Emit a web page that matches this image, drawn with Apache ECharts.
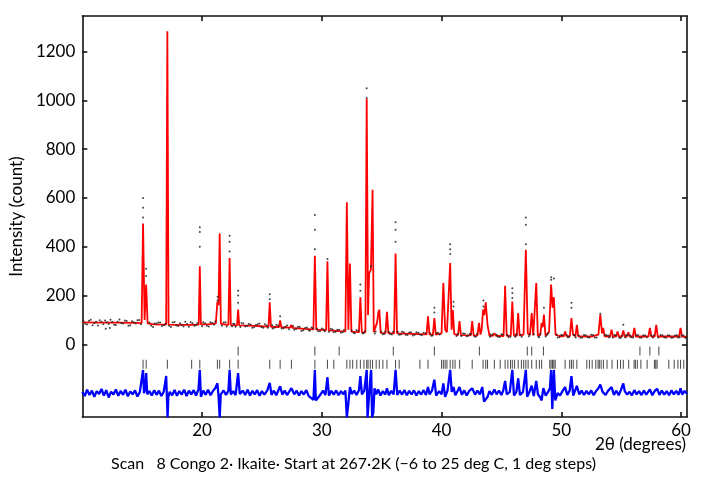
<!DOCTYPE html>
<html>
<head>
<meta charset="utf-8">
<script src="https://cdn.jsdelivr.net/npm/echarts@6/dist/echarts.min.js"></script>
<style>
  html, body { margin: 0; padding: 0; background: #ffffff; }
  #chart { width: 707px; height: 477px; }
</style>
</head>
<body>
<div id="chart"></div>
<script>
// tick labels
const xTicks = [20, 30, 40, 50, 60];
const yTicks = [0, 200, 400, 600, 800, 1000, 1200];

// calculated profile (red), [2theta, count]
const calcCurve = [
  [10.0, 90], [11.5, 89], [13.0, 89], [14.5, 88], [14.95, 87], [15.07, 495], [15.2, 100], [15.33, 245], [15.45, 86],
  [16.0, 82], [17.0, 81], [17.1, 1283], [17.2, 81], [18.0, 80], [19.0, 80], [19.72, 81], [19.81, 320], [19.9, 82],
  [20.5, 82], [21.15, 86], [21.28, 175], [21.38, 160], [21.47, 454], [21.57, 84], [22.2, 80], [22.3, 354], [22.4, 79],
  [22.92, 78], [23.01, 142], [23.1, 78], [24.0, 77], [25.0, 74], [25.55, 73], [25.65, 172], [25.75, 72],
  [26.42, 71], [26.52, 98], [26.62, 70], [27.36, 68], [27.46, 80], [27.56, 67], [28.5, 63], [29.3, 61], [29.42, 363],
  [29.54, 60], [30.36, 58], [30.47, 340], [30.58, 57], [31.5, 54], [31.97, 53], [32.09, 582], [32.22, 60], [32.35, 331],
  [32.47, 52], [33.1, 50], [33.22, 193], [33.34, 50], [33.64, 49], [33.75, 1006], [33.86, 120], [33.95, 290], [34.1, 306],
  [34.16, 300], [34.24, 634], [34.34, 50], [34.5, 48], [34.62, 90], [34.72, 130], [34.8, 142], [34.92, 47], [35.32, 46],
  [35.44, 133], [35.56, 46], [36.04, 45], [36.16, 372], [36.28, 45], [37.5, 43], [38.75, 41], [38.87, 115], [38.99, 41],
  [39.28, 40], [39.4, 108], [39.52, 40], [40.0, 45], [40.15, 251], [40.3, 60], [40.45, 50], [40.6, 45], [40.72, 333],
  [40.84, 60], [40.94, 140], [41.06, 42], [41.38, 38], [41.5, 95], [41.62, 38], [42.44, 37], [42.56, 95], [42.68, 37],
  [43.0, 36], [43.13, 88], [43.25, 40], [43.35, 60], [43.47, 142], [43.57, 120], [43.69, 172], [43.84, 80], [44.0, 36],
  [44.28, 35], [44.41, 46], [44.54, 35], [45.18, 34], [45.31, 240], [45.44, 35], [45.78, 35], [45.91, 175], [46.04, 36],
  [46.28, 35], [46.4, 128], [46.52, 36], [46.85, 40], [47.04, 388], [47.2, 45], [47.38, 38], [47.53, 128], [47.66, 36],
  [47.78, 36], [47.91, 251], [48.04, 36], [48.24, 38], [48.36, 88], [48.45, 70], [48.55, 122], [48.68, 36], [48.98, 50],
  [49.15, 245], [49.27, 150], [49.38, 193], [49.52, 40], [49.8, 34], [50.2, 33], [50.32, 52], [50.44, 33], [50.72, 34],
  [50.85, 108], [50.98, 40], [51.18, 33], [51.3, 80], [51.42, 33], [52.5, 32], [53.1, 40], [53.26, 122], [53.4, 45],
  [53.5, 67], [53.62, 33], [54.08, 32], [54.2, 60], [54.32, 32], [54.58, 32], [54.7, 53], [54.82, 32], [55.06, 32],
  [55.18, 57], [55.3, 32], [55.48, 32], [55.6, 49], [55.72, 32], [55.98, 32], [56.1, 67], [56.22, 32], [57.28, 32],
  [57.4, 67], [57.52, 32], [57.8, 32], [57.93, 80], [58.06, 32], [59.0, 32], [59.84, 32], [59.96, 67], [60.08, 32],
  [60.5, 31]
];

// observed counts (black dots) along the background
const obsBackground = [
  [10.1, 95], [10.25, 84], [10.4, 81], [10.55, 97], [10.7, 101], [10.85, 78], [11.0, 86], [11.15, 92], [11.3, 77],
  [11.45, 99], [11.6, 93], [11.75, 82], [11.9, 98], [11.95, 64], [12.05, 90], [12.2, 83], [12.3, 67], [12.35, 101],
  [12.5, 91], [12.65, 80], [12.8, 79], [12.95, 93], [13.1, 102], [13.25, 87], [13.4, 85], [13.55, 98], [13.7, 96],
  [13.85, 76], [14.0, 78], [14.15, 95], [14.3, 90], [14.45, 85], [14.6, 99], [14.75, 100], [14.9, 82], [15.6, 89],
  [15.75, 76], [15.9, 71], [16.05, 85], [16.2, 85], [16.35, 89], [16.5, 89], [16.65, 75], [16.8, 78], [16.95, 84],
  [17.25, 76], [17.4, 71], [17.55, 89], [17.7, 91], [17.85, 77], [18.0, 75], [18.15, 86], [18.3, 80], [18.45, 73],
  [18.6, 92], [18.75, 83], [18.9, 72], [19.05, 90], [19.2, 86], [19.35, 76], [19.5, 79], [19.6, 86], [20.0, 74],
  [20.1, 90], [20.25, 86], [20.4, 76], [20.55, 73], [20.7, 90], [20.85, 87], [21.0, 81], [21.1, 94], [21.65, 76],
  [21.8, 89], [21.95, 90], [22.05, 73], [22.5, 74], [22.6, 84], [22.7, 83], [22.8, 72], [23.2, 71], [23.3, 87],
  [23.45, 85], [23.6, 73], [23.75, 75], [23.9, 83], [24.05, 81], [24.2, 68], [24.35, 70], [24.5, 79], [24.65, 82],
  [24.8, 85], [24.95, 71], [25.1, 68], [25.25, 82], [25.4, 77], [25.5, 68], [25.85, 78], [25.9, 65], [26.05, 68],
  [26.2, 80], [26.35, 76], [26.65, 65], [26.8, 66], [26.95, 72], [27.1, 77], [27.25, 62], [27.6, 75], [27.7, 60],
  [27.85, 63], [28.0, 72], [28.15, 71], [28.3, 55], [28.45, 58], [28.6, 67], [28.75, 69], [28.9, 59], [29.0, 56],
  [29.15, 69], [29.25, 66], [29.6, 64], [29.7, 54], [29.85, 54], [30.0, 65], [30.15, 61], [30.25, 54], [30.6, 51],
  [30.75, 64], [30.9, 61], [31.0, 49], [31.15, 51], [31.3, 60], [31.45, 60], [31.6, 47], [31.75, 50], [31.85, 59],
  [32.5, 57], [32.65, 47], [32.75, 45], [32.9, 59], [33.05, 56], [33.4, 45], [33.5, 45], [33.6, 54], [34.42, 44],
  [34.5, 53], [34.95, 52], [35.1, 41], [35.2, 42], [35.3, 53], [35.6, 50], [35.7, 42], [35.85, 40], [35.95, 51],
  [36.35, 51], [36.45, 39], [36.6, 40], [36.7, 52], [36.85, 49], [37.0, 39], [37.15, 38], [37.3, 48], [37.45, 49],
  [37.6, 36], [37.75, 39], [37.9, 49], [38.05, 47], [38.2, 40], [38.35, 37], [38.5, 47], [38.65, 45], [39.05, 45],
  [39.15, 35], [39.25, 36], [39.6, 45], [39.7, 47], [39.85, 40], [41.25, 34], [41.35, 42], [41.65, 34], [41.8, 44],
  [41.95, 43], [42.1, 33], [42.2, 35], [42.35, 42], [42.45, 42], [42.75, 33], [42.85, 31], [42.95, 42], [44.05, 31],
  [44.1, 40], [44.25, 40], [44.6, 39], [44.7, 31], [44.85, 30], [45.0, 41], [45.1, 39], [45.5, 38], [45.6, 29],
  [45.75, 31], [46.15, 31], [46.2, 40], [46.3, 40], [46.6, 39], [46.7, 31], [47.3, 33], [47.35, 39], [47.7, 41],
  [48.1, 31], [48.15, 29], [48.25, 42], [48.7, 32], [48.8, 39], [48.9, 45], [49.6, 40], [49.7, 28], [49.85, 29],
  [50.0, 38], [50.1, 37], [50.45, 38], [50.55, 29], [50.65, 30], [51.05, 38], [51.1, 37], [51.2, 28], [51.45, 37],
  [51.6, 27], [51.75, 28], [51.9, 38], [52.05, 37], [52.2, 29], [52.35, 28], [52.5, 39], [52.65, 38], [52.8, 28],
  [52.95, 28], [53.65, 38], [53.8, 37], [53.95, 36], [54.0, 28], [54.3, 28], [54.45, 38], [54.55, 36], [54.85, 27],
  [54.95, 27], [55.1, 35], [55.35, 28], [55.4, 37], [55.55, 38], [55.75, 36], [55.85, 29], [56.0, 28], [56.25, 37],
  [56.4, 38], [56.55, 28], [56.7, 27], [56.85, 37], [57.0, 36], [57.15, 29], [57.5, 36], [57.65, 28], [57.75, 37],
  [58.1, 28], [58.3, 38], [58.45, 37], [58.6, 29], [58.75, 27], [58.9, 37], [59.05, 36], [59.2, 27], [59.35, 28],
  [59.5, 36], [59.65, 37], [59.75, 28], [59.9, 29], [60.05, 36], [60.2, 37], [60.35, 27], [60.45, 29]
];

// observed counts above the calculated peak tops
const obsPeakTops = [
  [15.07, 600], [15.07, 560], [15.07, 520], [15.33, 310], [15.33, 280], [19.81, 480], [19.81, 460], [19.81, 400],
  [21.3, 195], [21.3, 180], [22.3, 445], [22.3, 420], [22.3, 380], [23.01, 220], [23.01, 200], [23.01, 170],
  [25.65, 205], [25.65, 185], [26.52, 115], [29.42, 530], [29.42, 470], [29.42, 390], [30.47, 350], [33.22, 245],
  [33.22, 220], [33.75, 1050], [33.75, 1010], [34.1, 320], [36.16, 500], [36.16, 470], [36.16, 420], [39.4, 150],
  [39.4, 130], [40.72, 410], [40.72, 390], [40.72, 370], [41.0, 175], [41.0, 155], [43.5, 180], [43.5, 155],
  [45.91, 230], [45.91, 210], [45.91, 190], [47.04, 520], [47.04, 490], [47.04, 410], [48.55, 150], [49.15, 275],
  [49.15, 265], [49.38, 270], [50.85, 170], [50.85, 150], [53.26, 125], [55.18, 80]
];

// difference curve (blue), [2theta, obs - calc] drawn with its offset
const diffCurve = [
  [10.0, -195], [10.2, -212], [10.4, -186], [10.6, -208], [10.8, -190], [11.0, -215], [11.2, -192], [11.4, -204],
  [11.6, -183], [11.8, -210], [12.0, -188], [12.2, -218], [12.4, -194], [12.6, -206], [12.8, -185], [13.0, -211],
  [13.2, -191], [13.4, -207], [13.6, -186], [13.8, -213], [14.0, -193], [14.2, -205], [14.4, -189], [14.6, -214],
  [14.8, -196], [14.95, -190], [15.07, -105], [15.15, -200], [15.25, -185], [15.33, -118], [15.42, -205], [15.6, -192],
  [15.8, -210], [16.0, -188], [16.2, -207], [16.4, -190], [16.6, -212], [16.8, -194], [17.0, -130], [17.08, -240],
  [17.12, -300], [17.18, -215], [17.3, -195], [17.5, -209], [17.7, -187], [17.9, -211], [18.1, -192], [18.3, -206],
  [18.5, -186], [18.7, -212], [18.9, -190], [19.1, -205], [19.3, -188], [19.5, -210], [19.7, -185], [19.81, -105],
  [19.9, -215], [20.1, -190], [20.3, -207], [20.5, -186], [20.7, -209], [20.9, -192], [21.1, -180], [21.28, -160],
  [21.38, -215], [21.47, -300], [21.56, -205], [21.8, -189], [22.0, -208], [22.2, -190], [22.3, -105], [22.4, -206],
  [22.6, -192], [22.8, -208], [23.01, -118], [23.15, -204], [23.4, -190], [23.6, -208], [23.8, -186], [24.0, -210],
  [24.2, -191], [24.4, -205], [24.6, -188], [24.8, -211], [25.0, -192], [25.2, -206], [25.45, -189], [25.65, -158],
  [25.8, -207], [26.0, -190], [26.2, -209], [26.52, -172], [26.7, -206], [26.9, -190], [27.1, -208], [27.46, -180],
  [27.7, -205], [27.9, -190], [28.1, -210], [28.3, -192], [28.5, -206], [28.7, -188], [28.9, -211], [29.1, -220],
  [29.3, -228], [29.42, -105], [29.5, -230], [29.7, -218], [29.9, -205], [30.1, -190], [30.3, -208], [30.47, -135],
  [30.6, -210], [30.8, -191], [31.0, -206], [31.2, -189], [31.4, -209], [31.6, -192], [31.8, -205], [31.97, -190],
  [32.09, -300], [32.2, -250], [32.35, -175], [32.5, -204], [32.7, -190], [32.9, -208], [33.1, -188], [33.22, -130],
  [33.35, -205], [33.55, -190], [33.75, -105], [33.82, -300], [33.92, -230], [34.05, -140], [34.12, -105], [34.2, -300],
  [34.3, -280], [34.4, -180], [34.55, -205], [34.7, -185], [34.9, -210], [35.1, -192], [35.3, -206], [35.44, -180],
  [35.6, -209], [35.8, -191], [36.0, -205], [36.16, -105], [36.3, -208], [36.5, -190], [36.7, -206], [36.9, -188],
  [37.1, -209], [37.3, -191], [37.5, -205], [37.7, -189], [37.9, -210], [38.1, -192], [38.3, -206], [38.5, -188],
  [38.7, -208], [38.87, -175], [39.0, -205], [39.2, -190], [39.4, -145], [39.55, -210], [39.8, -192], [40.0, -205],
  [40.15, -160], [40.3, -215], [40.5, -190], [40.72, -105], [40.85, -195], [41.0, -175], [41.15, -209], [41.35, -190],
  [41.5, -175], [41.7, -207], [41.9, -189], [42.1, -210], [42.3, -192], [42.56, -180], [42.8, -206], [43.0, -190],
  [43.2, -205], [43.4, -175], [43.55, -235], [43.7, -240], [43.85, -215], [44.0, -192], [44.2, -207], [44.41, -185],
  [44.6, -205], [44.8, -190], [45.0, -208], [45.15, -190], [45.31, -150], [45.45, -205], [45.7, -195], [45.91, -105],
  [46.05, -210], [46.25, -195], [46.4, -140], [46.55, -208], [46.8, -195], [47.04, -105], [47.15, -215], [47.3, -200],
  [47.53, -170], [47.7, -212], [47.91, -150], [48.05, -205], [48.25, -218], [48.36, -230], [48.5, -180], [48.7, -210],
  [48.9, -195], [49.05, -180], [49.15, -105], [49.25, -265], [49.38, -105], [49.5, -230], [49.7, -200], [49.9, -210],
  [50.1, -192], [50.32, -175], [50.5, -208], [50.7, -190], [50.85, -130], [51.0, -210], [51.3, -170], [51.5, -205],
  [51.7, -190], [51.9, -208], [52.1, -191], [52.3, -205], [52.5, -189], [52.7, -209], [52.9, -192], [53.1, -180],
  [53.26, -165], [53.45, -195], [53.7, -208], [53.9, -191], [54.2, -175], [54.4, -207], [54.6, -190], [54.8, -209],
  [55.0, -185], [55.18, -160], [55.3, -192], [55.5, -206], [55.7, -195], [55.9, -209], [56.1, -188], [56.3, -205],
  [56.5, -192], [56.7, -208], [56.9, -190], [57.1, -206], [57.4, -185], [57.6, -209], [57.8, -192], [58.0, -182],
  [58.2, -207], [58.4, -190], [58.6, -206], [58.8, -192], [59.0, -209], [59.2, -189], [59.4, -205], [59.6, -191],
  [59.8, -207], [59.96, -180], [60.1, -206], [60.3, -191], [60.5, -203]
];

// reflection positions, 2theta
const phase1Ticks = [23.01, 29.42, 31.45, 35.97, 39.40, 43.16, 47.16, 47.53, 48.51, 56.57, 57.40, 58.15];
const phase2Ticks = [
  15.07, 15.33, 17.10, 19.13, 19.81, 21.28, 21.47, 22.30, 23.01, 25.65, 26.52, 27.46, 29.42, 30.47, 31.00,
  32.09, 32.35, 32.58, 32.92, 33.22, 33.52, 33.75, 33.86, 34.05, 34.24, 34.54, 34.80, 35.10, 35.44, 36.16,
  36.46, 38.19, 38.87, 40.00, 40.15, 40.30, 40.45, 40.72, 40.94, 41.13, 41.51, 42.56, 43.47, 43.69, 43.84,
  44.41, 44.90, 45.31, 45.54, 45.76, 45.91, 46.10, 46.40, 46.67, 46.86, 47.04, 47.23, 47.53, 47.91, 48.17,
  48.36, 49.04, 49.15, 49.27, 49.38, 49.49, 50.32, 50.70, 50.85, 51.00, 51.30, 52.13, 52.35, 52.58, 52.88,
  53.07, 53.18, 53.33, 53.52, 53.82, 54.24, 54.69, 54.95, 55.18, 55.63, 56.08, 56.19, 56.35, 56.65, 57.17,
  57.78, 57.89, 58.00, 58.98, 59.43, 59.74, 59.96, 60.23
];

const font = 'Lato';
const axisColor = '#111111';
// rows of the reflection markers, below zero
const row1Y = -27;
const row2Y = -82;

const myChart = echarts.init(document.getElementById('chart'), null, { renderer: 'canvas' });

const tickStyle = (values) => ({
  show: true, inside: true, length: 5, customValues: values,
  lineStyle: { color: axisColor, width: 1.6 }
});

const frameAxis = (extra) => Object.assign({
  type: 'value',
  axisLine: { show: true, onZero: false, lineStyle: { color: axisColor, width: 1.6 } },
  splitLine: { show: false }
}, extra);

const option = {
  backgroundColor: '#ffffff',
  animation: false,
  grid: { left: 82, right: 20, top: 16, bottom: 60, containLabel: false },
  xAxis: [
    frameAxis({
      position: 'bottom', min: 10, max: 60.5,
      axisTick: tickStyle(xTicks),
      axisLabel: { customValues: xTicks, color: '#000', fontFamily: font, fontSize: 17, margin: 5,
        formatter: (v) => String(v) }
    }),
    frameAxis({
      position: 'top', min: 10, max: 60.5,
      axisTick: tickStyle(xTicks),
      axisLabel: { show: false }
    })
  ],
  yAxis: [
    frameAxis({
      position: 'left', min: -298, max: 1346,
      name: 'Intensity (count)', nameLocation: 'middle', nameGap: 48,
      nameTextStyle: { color: '#000', fontFamily: font, fontSize: 17 },
      axisTick: tickStyle(yTicks),
      axisLabel: { customValues: yTicks, color: '#000', fontFamily: font, fontSize: 17, margin: 7,
        formatter: (v) => String(v) }
    }),
    frameAxis({
      position: 'right', min: -298, max: 1346,
      axisTick: tickStyle(yTicks),
      axisLabel: { show: false }
    })
  ],
  graphic: [
    {
      type: 'text', right: 21, top: 436,
      style: { text: '2θ (degrees)', fill: '#000', font: '17px ' + font }
    },
    {
      type: 'text', left: 'center', top: 456,
      style: { text: 'Scan   8 Congo 2· Ikaite· Start at 267·2K (−6 to 25 deg C, 1 deg steps)', fill: '#000', font: '16px ' + font }
    }
  ],
  series: [
    {
      name: 'Calculated', type: 'line', data: calcCurve, showSymbol: false,
      lineStyle: { color: '#ff0000', width: 1.8 }, z: 2
    },
    {
      name: 'Observed', type: 'scatter', data: obsBackground.concat(obsPeakTops),
      symbol: 'circle', symbolSize: 2, itemStyle: { color: '#222222', opacity: 0.85 }, z: 3
    },
    {
      name: 'Difference', type: 'line', data: diffCurve, showSymbol: false, clip: true,
      lineStyle: { color: '#0000ff', width: 2.3 }, z: 3
    },
    {
      name: 'Phase 1', type: 'scatter', data: phase1Ticks.map(x => [x, row1Y]),
      symbol: 'rect', symbolSize: [1, 9], itemStyle: { color: '#1a1a1a' }, z: 4
    },
    {
      name: 'Phase 2', type: 'scatter', data: phase2Ticks.map(x => [x, row2Y]),
      symbol: 'rect', symbolSize: [1, 9], itemStyle: { color: '#1a1a1a' }, z: 4
    }
  ]
};

myChart.setOption(option);
</script>
</body>
</html>
